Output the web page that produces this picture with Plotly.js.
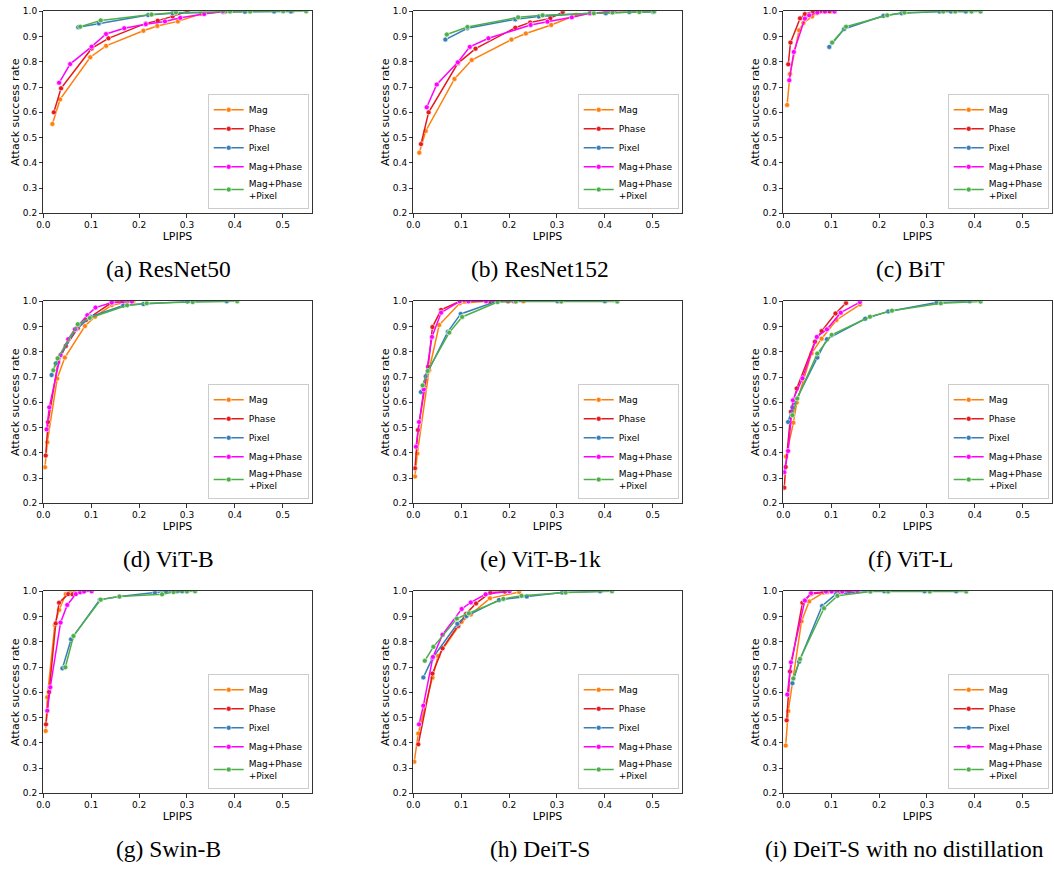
<!DOCTYPE html>
<html>
<head>
<meta charset="utf-8">
<script src="https://cdn.plot.ly/plotly-3.0.1.min.js"></script>
<style>html,body{margin:0;padding:0;background:#fff;}#chart{width:1054px;height:871px;}</style>
</head>
<body>
<div id="chart"></div>
<script>
// ---------- Data (LPIPS on x, attack success rate on y) ----------
const seriesNames = ["Mag", "Phase", "Pixel", "Mag+Phase", "Mag+Phase<br>+Pixel"];
const captions = ["(a) ResNet50", "(b) ResNet152", "(c) BiT", "(d) ViT-B", "(e) ViT-B-1k", "(f) ViT-L", "(g) Swin-B", "(h) DeiT-S", "(i) DeiT-S with no distillation"];
const xTickVals = [0.0, 0.1, 0.2, 0.3, 0.4, 0.5];
const yTickVals = [0.2, 0.3, 0.4, 0.5, 0.6, 0.7, 0.8, 0.9, 1.0];

// (a) ResNet50
const a_mag_x = [0.019,0.035,0.098,0.131,0.209,0.238,0.281,0.330,0.380,0.430,0.520];
const a_mag_y = [0.554,0.651,0.818,0.863,0.923,0.942,0.960,0.990,0.998,1.0,1.0];
const a_phase_x = [0.022,0.037,0.101,0.136,0.214,0.239,0.270,0.301];
const a_phase_y = [0.600,0.695,0.853,0.893,0.952,0.963,0.980,1.0];
const a_pix_x = [0.073,0.116,0.219,0.270,0.375,0.421,0.482,0.517];
const a_pix_y = [0.937,0.952,0.985,0.992,0.997,0.998,0.999,0.999];
const a_mp_x = [0.033,0.056,0.101,0.131,0.169,0.214,0.254,0.286,0.336,0.375];
const a_mp_y = [0.717,0.791,0.860,0.910,0.933,0.949,0.960,0.974,0.989,1.0];
const a_mpp_x = [0.077,0.120,0.226,0.277,0.390,0.432,0.501,0.549];
const a_mpp_y = [0.939,0.964,0.987,0.995,0.999,0.999,1.0,1.0];

// (b) ResNet152
const b_mag_x = [0.0125,0.026,0.086,0.122,0.205,0.235,0.288,0.340,0.400,0.470,0.500];
const b_mag_y = [0.440,0.526,0.732,0.807,0.888,0.912,0.946,0.985,0.995,1.0,1.0];
const b_phase_x = [0.016,0.032,0.093,0.130,0.213,0.244,0.286,0.312];
const b_phase_y = [0.474,0.600,0.794,0.852,0.935,0.956,0.972,0.997];
const b_pix_x = [0.067,0.113,0.213,0.262,0.368,0.402,0.451,0.501];
const b_pix_y = [0.888,0.933,0.968,0.979,0.992,0.992,0.997,0.997];
const b_mp_x = [0.028,0.049,0.093,0.118,0.157,0.245,0.280,0.331,0.369,0.420];
const b_mp_y = [0.620,0.710,0.798,0.859,0.893,0.946,0.959,0.976,0.992,1.0];
const b_mpp_x = [0.070,0.113,0.219,0.270,0.377,0.416,0.472,0.503];
const b_mpp_y = [0.908,0.938,0.976,0.984,0.992,0.995,0.997,0.999];

// (c) BiT
const c_mag_x = [0.008,0.014,0.033,0.042,0.060,0.070,0.085,0.100];
const c_mag_y = [0.629,0.752,0.925,0.954,0.979,0.992,0.998,1.0];
const c_phase_x = [0.0104,0.015,0.035,0.045,0.062,0.077,0.096];
const c_phase_y = [0.790,0.876,0.972,0.989,1.0,1.0,1.0];
const c_pix_x = [0.096,0.127,0.209,0.247,0.326,0.350,0.381];
const c_pix_y = [0.859,0.930,0.982,0.992,0.999,0.999,0.999];
const c_mp_x = [0.0125,0.022,0.045,0.054,0.071,0.087,0.107];
const c_mp_y = [0.727,0.839,0.971,0.984,0.995,0.999,0.999];
const c_mpp_x = [0.102,0.131,0.217,0.253,0.334,0.359,0.393,0.412];
const c_mpp_y = [0.876,0.939,0.984,0.995,0.999,0.999,0.999,0.999];

// (d) ViT-B
const d_mag_x = [0.0035,0.0084,0.029,0.045,0.087,0.108,0.143,0.188];
const d_mag_y = [0.343,0.442,0.694,0.777,0.902,0.939,0.985,1.0];
const d_phase_x = [0.005,0.010,0.031,0.047,0.072,0.089,0.143,0.165];
const d_phase_y = [0.389,0.522,0.760,0.823,0.893,0.926,0.995,1.0];
const d_pix_x = [0.0174,0.026,0.068,0.099,0.167,0.209,0.301,0.383];
const d_pix_y = [0.708,0.754,0.889,0.939,0.983,0.989,0.999,1.0];
const d_mp_x = [0.007,0.0125,0.036,0.052,0.066,0.092,0.109,0.143,0.185];
const d_mp_y = [0.493,0.580,0.787,0.850,0.889,0.945,0.975,0.995,0.999];
const d_mpp_x = [0.021,0.030,0.072,0.097,0.175,0.216,0.312,0.405];
const d_mpp_y = [0.727,0.774,0.909,0.934,0.984,0.992,0.997,1.0];

// (e) ViT-B-1k
const e_mag_x = [0.0035,0.0084,0.033,0.054,0.097,0.153,0.230];
const e_mag_y = [0.306,0.397,0.727,0.906,0.992,1.0,1.0];
const e_phase_x = [0.0035,0.0097,0.031,0.040,0.058,0.097,0.159,0.198];
const e_phase_y = [0.339,0.490,0.741,0.898,0.966,1.0,1.0,1.0];
const e_pix_x = [0.016,0.026,0.072,0.099,0.174,0.214,0.301,0.400];
const e_pix_y = [0.641,0.703,0.879,0.950,1.0,1.0,1.0,1.0];
const e_mp_x = [0.0056,0.012,0.022,0.039,0.058,0.097,0.115,0.152,0.210];
const e_mp_y = [0.424,0.522,0.651,0.859,0.955,1.0,1.0,1.0,1.0];
const e_mpp_x = [0.0195,0.030,0.075,0.102,0.176,0.214,0.309,0.426];
const e_mpp_y = [0.667,0.724,0.876,0.938,0.997,0.999,0.999,0.999];

// (f) ViT-L
const f_mag_x = [0.0056,0.021,0.028,0.059,0.080,0.111,0.160];
const f_mag_y = [0.385,0.519,0.599,0.794,0.852,0.926,0.987];
const f_phase_x = [0.002,0.005,0.016,0.028,0.066,0.080,0.109,0.131];
const f_phase_y = [0.262,0.344,0.563,0.655,0.840,0.882,0.952,0.993];
const f_pix_x = [0.010,0.019,0.071,0.091,0.171,0.219,0.320,0.389];
const f_pix_y = [0.522,0.580,0.777,0.850,0.931,0.960,0.995,1.0];
const f_mp_x = [0.002,0.010,0.020,0.040,0.070,0.091,0.120,0.160];
const f_mp_y = [0.323,0.407,0.608,0.695,0.859,0.889,0.955,0.997];
const f_mpp_x = [0.019,0.029,0.071,0.101,0.181,0.227,0.329,0.412];
const f_mpp_y = [0.549,0.615,0.793,0.867,0.939,0.963,0.992,0.999];

// (g) Swin-B
const g_mag_x = [0.005,0.0084,0.024,0.033,0.047,0.056,0.066];
const g_mag_y = [0.447,0.580,0.867,0.926,0.989,0.995,0.999];
const g_phase_x = [0.0056,0.012,0.026,0.033,0.052,0.061];
const g_phase_y = [0.473,0.601,0.873,0.955,0.989,0.988];
const g_pix_x = [0.040,0.058,0.118,0.159,0.233,0.256,0.279,0.290];
const g_pix_y = [0.695,0.810,0.967,0.979,0.995,0.999,1.0,1.0];
const g_mp_x = [0.0084,0.0146,0.036,0.050,0.068,0.077,0.085,0.101];
const g_mp_y = [0.527,0.620,0.876,0.946,0.989,0.996,0.999,1.0];
const g_mpp_x = [0.046,0.063,0.120,0.159,0.248,0.272,0.300,0.317];
const g_mpp_y = [0.699,0.823,0.967,0.979,0.988,0.997,0.999,1.0];

// (h) DeiT-S
const h_mag_x = [0.002,0.0104,0.040,0.052,0.101,0.120,0.160,0.221];
const h_mag_y = [0.325,0.437,0.658,0.744,0.879,0.908,0.972,0.997];
const h_phase_x = [0.0104,0.040,0.061,0.094,0.110,0.131,0.161,0.191];
const h_phase_y = [0.394,0.674,0.774,0.863,0.910,0.952,0.995,0.999];
const h_pix_x = [0.021,0.040,0.092,0.111,0.179,0.237,0.311,0.390];
const h_pix_y = [0.659,0.735,0.871,0.902,0.966,0.979,0.995,1.0];
const h_mp_x = [0.012,0.021,0.041,0.061,0.101,0.120,0.151,0.201];
const h_mp_y = [0.473,0.547,0.740,0.828,0.930,0.956,0.988,1.0];
const h_mpp_x = [0.024,0.042,0.091,0.116,0.188,0.226,0.318,0.415];
const h_mpp_y = [0.725,0.780,0.892,0.913,0.970,0.982,0.995,1.0];

// (i) DeiT-S with no distillation
const i_mag_x = [0.005,0.0104,0.038,0.054,0.084,0.118];
const i_mag_y = [0.389,0.526,0.881,0.960,0.995,1.0];
const i_phase_x = [0.007,0.014,0.040,0.045,0.058,0.091,0.138];
const i_phase_y = [0.489,0.682,0.955,0.966,0.989,0.997,1.0];
const i_pix_x = [0.019,0.033,0.081,0.110,0.181,0.211,0.295,0.361];
const i_pix_y = [0.636,0.721,0.942,0.989,1.0,1.0,1.0,1.0];
const i_mp_x = [0.0084,0.016,0.045,0.058,0.089,0.101,0.123,0.155];
const i_mp_y = [0.591,0.719,0.963,0.993,0.999,0.999,0.999,0.999];
const i_mpp_x = [0.021,0.035,0.085,0.113,0.182,0.219,0.306,0.382];
const i_mpp_y = [0.655,0.732,0.933,0.982,0.999,0.999,0.999,0.999];

// ---------- Build ----------
const panels = [
  [[a_mag_x,a_mag_y],[a_phase_x,a_phase_y],[a_pix_x,a_pix_y],[a_mp_x,a_mp_y],[a_mpp_x,a_mpp_y]],
  [[b_mag_x,b_mag_y],[b_phase_x,b_phase_y],[b_pix_x,b_pix_y],[b_mp_x,b_mp_y],[b_mpp_x,b_mpp_y]],
  [[c_mag_x,c_mag_y],[c_phase_x,c_phase_y],[c_pix_x,c_pix_y],[c_mp_x,c_mp_y],[c_mpp_x,c_mpp_y]],
  [[d_mag_x,d_mag_y],[d_phase_x,d_phase_y],[d_pix_x,d_pix_y],[d_mp_x,d_mp_y],[d_mpp_x,d_mpp_y]],
  [[e_mag_x,e_mag_y],[e_phase_x,e_phase_y],[e_pix_x,e_pix_y],[e_mp_x,e_mp_y],[e_mpp_x,e_mpp_y]],
  [[f_mag_x,f_mag_y],[f_phase_x,f_phase_y],[f_pix_x,f_pix_y],[f_mp_x,f_mp_y],[f_mpp_x,f_mpp_y]],
  [[g_mag_x,g_mag_y],[g_phase_x,g_phase_y],[g_pix_x,g_pix_y],[g_mp_x,g_mp_y],[g_mpp_x,g_mpp_y]],
  [[h_mag_x,h_mag_y],[h_phase_x,h_phase_y],[h_pix_x,h_pix_y],[h_mp_x,h_mp_y],[h_mpp_x,h_mpp_y]],
  [[i_mag_x,i_mag_y],[i_phase_x,i_phase_y],[i_pix_x,i_pix_y],[i_mp_x,i_mp_y],[i_mpp_x,i_mpp_y]]
];
const colors = ["#ff7f0e", "#e41a1c", "#377eb8", "#ff00ff", "#4daf4a"];

const W = 1054, H = 871;
const colLeft = [43.3, 413.3, 783.3];
const plotW = 268.4;
const rowTop = [11.3, 301.3, 591.3];
const plotH = 202;
const capX = [168, 540, 910, 168, 540, 910, 168, 540, 904];

const traces = [];
const layout = {
  width: W, height: H, autosize: false,
  margin: {l: 0, r: 0, t: 0, b: 0},
  paper_bgcolor: "#fff", plot_bgcolor: "#fff",
  font: {family: "DejaVu Sans", size: 9, color: "#000"},
  annotations: [],
  showlegend: true
};
const tickFont = {family: "DejaVu Sans", size: 9, color: "#000"};
const titleFont = {family: "DejaVu Sans", size: 11, color: "#000"};

panels.forEach((series, p) => {
  const r = Math.floor(p / 3), c = p % 3;
  const sfx = p === 0 ? "" : String(p + 1);
  const legName = "legend" + sfx;
  series.forEach((s, k) => {
    traces.push({
      x: s[0], y: s[1], type: "scatter", mode: "lines+markers",
      name: seriesNames[k],
      legend: legName,
      xaxis: "x" + sfx, yaxis: "y" + sfx,
      line: {color: colors[k], width: 1.5},
      marker: {color: colors[k], size: 5, line: {color: "#fff", width: 0.6}},
      cliponaxis: true,
      hoverinfo: "x+y+name"
    });
  });
  const x0 = colLeft[c] / W, x1 = (colLeft[c] + plotW) / W;
  const y1 = 1 - rowTop[r] / H, y0 = 1 - (rowTop[r] + plotH) / H;
  layout["xaxis" + sfx] = {
    domain: [x0, x1], anchor: "y" + sfx, range: [0, 0.5605],
    tickvals: xTickVals, tickformat: ".1f",
    ticks: "outside", ticklen: 3.5, tickwidth: 0.8, tickcolor: "#000",
    showline: true, mirror: true, linecolor: "#000", linewidth: 0.8,
    showgrid: false, zeroline: false, tickfont: tickFont, automargin: false,
    title: {text: "LPIPS", font: titleFont, standoff: 2}
  };
  layout["yaxis" + sfx] = {
    domain: [y0, y1], anchor: "x" + sfx, range: [0.2, 1.0],
    tickvals: yTickVals, tickformat: ".1f",
    ticks: "outside", ticklen: 3.5, tickwidth: 0.8, tickcolor: "#000",
    showline: true, mirror: true, linecolor: "#000", linewidth: 0.8,
    showgrid: false, zeroline: false, tickfont: tickFont, automargin: false,
    title: {text: "Attack success rate", font: titleFont, standoff: 0}
  };
  layout[legName] = {
    x: (colLeft[c] + plotW - 3) / W, y: 1 - (rowTop[r] + plotH - 4) / H,
    xanchor: "right", yanchor: "bottom",
    bgcolor: "rgba(255,255,255,0.85)", bordercolor: "#cccccc", borderwidth: 1,
    font: {family: "DejaVu Sans", size: 9, color: "#000"},
    tracegroupgap: 0, itemwidth: 30
  };
  layout.annotations.push({
    text: captions[p], xref: "paper", yref: "paper",
    x: capX[p] / W, y: 1 - (rowTop[r] + plotH + 56) / H,
    xanchor: "center", yanchor: "middle", showarrow: false,
    font: {family: "Liberation Serif", size: 23.5, color: "#000"}
  });
});

Plotly.newPlot("chart", traces, layout, {staticPlot: true, displayModeBar: false});
</script>
</body>
</html>
